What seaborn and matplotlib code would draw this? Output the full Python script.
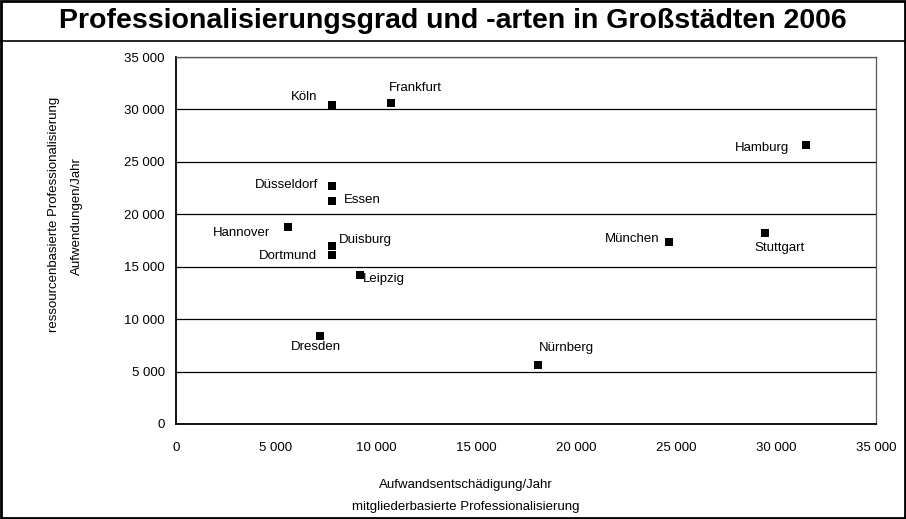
import pandas as pd
import matplotlib
matplotlib.use("Agg")
import matplotlib.pyplot as plt
from matplotlib.ticker import FuncFormatter, MultipleLocator
from matplotlib.lines import Line2D
from matplotlib.patches import Rectangle
import seaborn as sns

# Daten
cities = ["Köln", "Frankfurt", "Hamburg", "Düsseldorf", "Essen", "Hannover",
          "Duisburg", "Dortmund", "Leipzig", "München", "Stuttgart",
          "Dresden", "Nürnberg"]
aufwandsentschaedigung = [7800, 10750, 31500, 7800, 7800, 5600,
                          7800, 7800, 9200, 24650, 29450,
                          7200, 18100]
aufwendungen = [30450, 30600, 26650, 22700, 21300, 18800,
                17000, 16100, 14200, 17350, 18250,
                8400, 5600]

# Beschriftungs-Platzierung (ha, dx, dy in Pixel)
label_pos = {
    "Köln": ("right", -15, 8),
    "Frankfurt": ("left", -2, 15),
    "Hamburg": ("right", -17, -3),
    "Düsseldorf": ("right", -14, 1),
    "Essen": ("left", 12, 1),
    "Hannover": ("right", -18, -6),
    "Duisburg": ("left", 7, 6),
    "Dortmund": ("right", -15, -1),
    "Leipzig": ("left", 3, -4),
    "München": ("right", -9, 3),
    "Stuttgart": ("center", 15, -15),
    "Dresden": ("center", -4, -11),
    "Nürnberg": ("left", 1, 17),
}

df = pd.DataFrame({"stadt": cities, "x": aufwandsentschaedigung, "y": aufwendungen})

sns.set_theme(style="white")
plt.rcParams["font.family"] = ["Liberation Sans", "DejaVu Sans"]
plt.rcParams["text.color"] = "black"

fig = plt.figure(figsize=(9.06, 5.19), dpi=100)
ax = fig.add_axes([176 / 906, 1 - 424 / 519, 700 / 906, 367 / 519])

sns.scatterplot(data=df, x="x", y="y", ax=ax, marker="s", s=26,
                color="black", edgecolor="black", linewidth=0, zorder=3)

for _, r in df.iterrows():
    ha, dx, dy = label_pos[r["stadt"]]
    ax.annotate(r["stadt"], (r["x"], r["y"]), xytext=(dx, dy),
                textcoords="offset pixels", ha=ha, va="center",
                fontsize=9.5, color="black")

fmt = FuncFormatter(lambda v, p: f"{int(v):,}".replace(",", " "))
ax.set_xlim(0, 35000)
ax.set_ylim(0, 35000)
ax.xaxis.set_major_locator(MultipleLocator(5000))
ax.yaxis.set_major_locator(MultipleLocator(5000))
ax.xaxis.set_major_formatter(fmt)
ax.yaxis.set_major_formatter(fmt)
ax.tick_params(axis="both", direction="out", length=4, width=0.8,
               labelsize=9.5, colors="black", labelcolor="black", pad=4)
ax.tick_params(axis="x", pad=9)
ax.set_xlabel("")
ax.set_ylabel("")
ax.yaxis.grid(True, color="black", linewidth=0.9)
ax.xaxis.grid(False)
for side in ["left", "bottom"]:
    ax.spines[side].set_color("black")
    ax.spines[side].set_linewidth(1.3)
for side in ["top", "right"]:
    ax.spines[side].set_color("#555555")
    ax.spines[side].set_linewidth(0.9)

# Achsentitel
fig.text(466 / 906, 1 - 485 / 519, "Aufwandsentschädigung/Jahr",
         ha="center", va="center", fontsize=9.5)
fig.text(466 / 906, 1 - 507 / 519, "mitgliederbasierte Professionalisierung",
         ha="center", va="center", fontsize=9.5)
fig.text(54 / 906, 1 - 214 / 519, "ressourcenbasierte Professionalisierung",
         ha="center", va="center", rotation=90, fontsize=9.5)
fig.text(77 / 906, 1 - 216 / 519, "Aufwendungen/Jahr",
         ha="center", va="center", rotation=90, fontsize=9.5)

# Titel und Rahmen
fig.text(0.5, 1 - 21 / 519, "Professionalisierungsgrad und -arten in Großstädten 2006",
         ha="center", va="center", fontsize=20.5, fontweight="bold", color="black")
fig.add_artist(Line2D([0, 1], [1 - 41 / 519, 1 - 41 / 519], color="black",
                      linewidth=1.2, transform=fig.transFigure))
fig.add_artist(Rectangle((0.001, 0.001), 0.998, 0.998, fill=False,
                         edgecolor="black", linewidth=2, transform=fig.transFigure))

fig.savefig("out.png", dpi=100, facecolor="white")
